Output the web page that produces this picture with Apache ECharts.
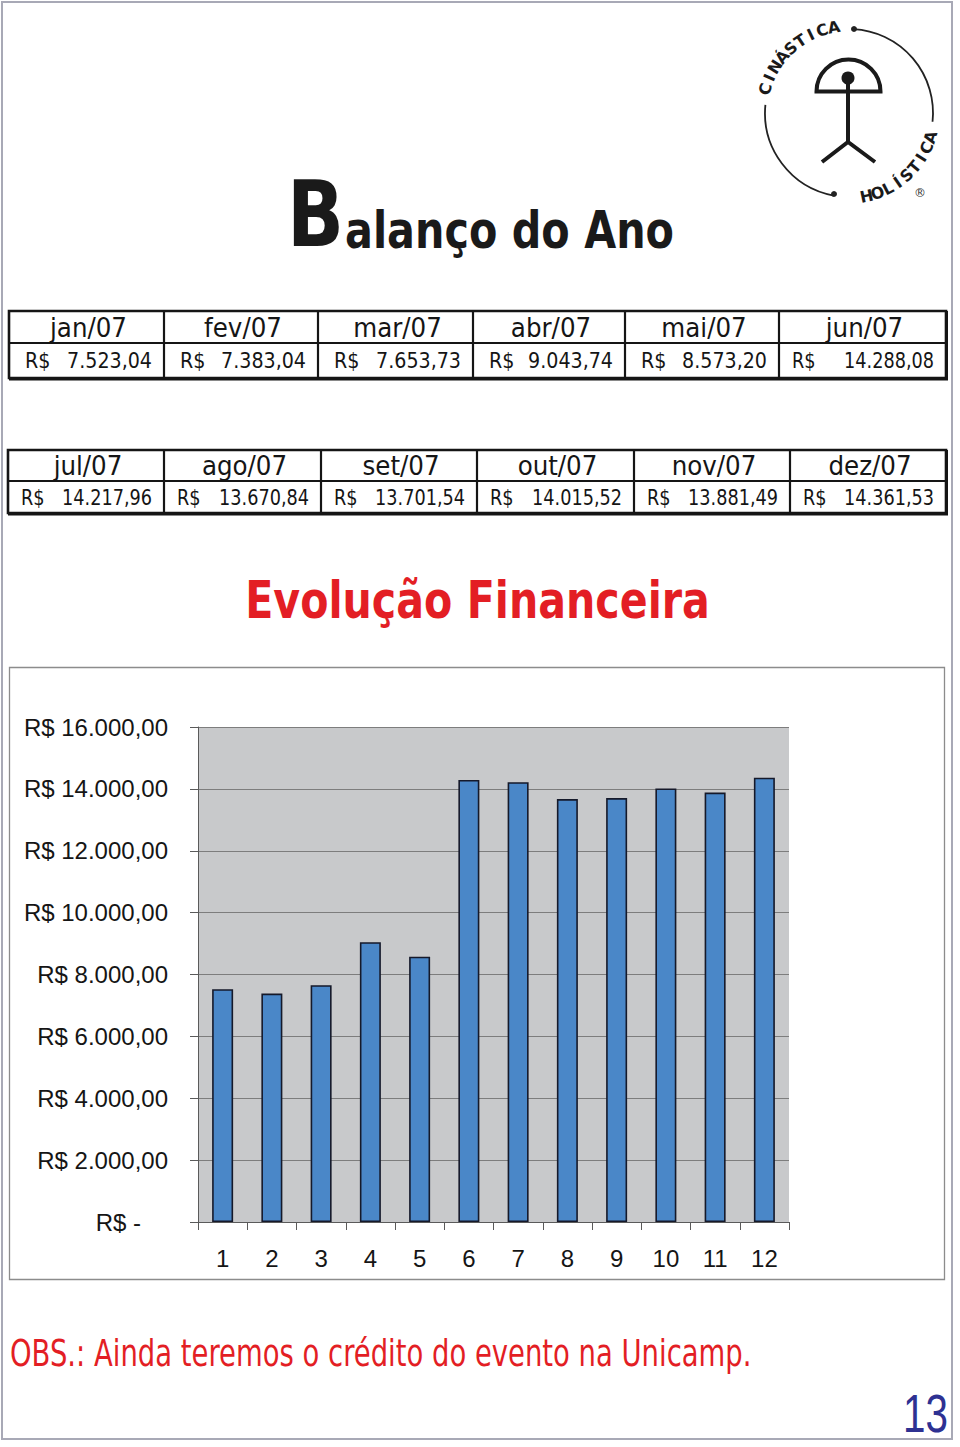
<!DOCTYPE html>
<html>
<head>
<meta charset="utf-8">
<script src="https://cdn.jsdelivr.net/npm/echarts@6/dist/echarts.min.js"></script>
<style>
html,body{margin:0;padding:0;background:#fff;}
#chart{width:960px;height:1447px;}
</style>
</head>
<body>
<div id="chart"></div>
<script>
// ---- data ----
const months = ['jan/07','fev/07','mar/07','abr/07','mai/07','jun/07','jul/07','ago/07','set/07','out/07','nov/07','dez/07'];
const values = [7523.04, 7383.04, 7653.73, 9043.74, 8573.20, 14288.08, 14217.96, 13670.84, 13701.54, 14015.52, 13881.49, 14361.53];
const xLabels = ['1','2','3','4','5','6','7','8','9','10','11','12'];
const yMin = 0, yMax = 16000, yStep = 2000;
const pageTitleBig = 'B';
const pageTitleRest = 'alanço do Ano';
const chartTitle = 'Evolução Financeira';
const note = 'OBS.: Ainda teremos o crédito do evento na Unicamp.';
const pageNumber = '13';
const logoTop = 'CINÁSTICA';
const logoBottom = 'HOLÍSTICA';

// ---- helpers ----
function brl(v){
  const s = v.toFixed(2).split('.');
  return s[0].replace(/\B(?=(\d{3})+(?!\d))/g, '.') + ',' + s[1];
}
const mctx = document.createElement('canvas').getContext('2d');
function fit(text, font, w){ mctx.font = font; return w / mctx.measureText(text).width; }
function txt(x, y, text, font, fill, align, vAlign, scaleX, rotation){
  return {
    type:'text', x:x, y:y, scaleX: scaleX || 1, scaleY:1, rotation: rotation || 0, silent:true,
    style:{text:text, font:font, fill:fill, align:align, verticalAlign:vAlign,
           textAlign:align, textVerticalAlign:vAlign}
  };
}
const D = "'DejaVu Sans', Verdana, sans-serif";
const ARIAL = "'Liberation Sans', Arial, sans-serif";
const INK = '#151515';
const RED = '#E31E24';

const els = [];

// page border
els.push({type:'rect', shape:{x:2, y:2, width:950, height:1437}, style:{fill:'none', stroke:'#a8a9b6', lineWidth:2}, silent:true});

// ---- logo ----
const LC = {cx:849, cy:113, r:84};
const deg = Math.PI/180;
els.push({type:'arc', shape:{cx:LC.cx, cy:LC.cy, r:LC.r, startAngle:-87*deg, endAngle:6*deg, clockwise:true}, style:{stroke:'#222', lineWidth:1.8, fill:'none'}, silent:true});
els.push({type:'arc', shape:{cx:LC.cx, cy:LC.cy, r:LC.r, startAngle:100.5*deg, endAngle:185.5*deg, clockwise:true}, style:{stroke:'#222', lineWidth:1.8, fill:'none'}, silent:true});
els.push({type:'circle', shape:{cx:854, cy:29, r:3}, style:{fill:'#222'}, silent:true});
els.push({type:'circle', shape:{cx:834, cy:194, r:3}, style:{fill:'#222'}, silent:true});
els.push({type:'sector', shape:{cx:848.5, cy:91.5, r:32, r0:0, startAngle:Math.PI, endAngle:2*Math.PI, clockwise:true}, style:{fill:'none', stroke:'#1a1a1a', lineWidth:4, lineJoin:'miter'}, silent:true});
els.push({type:'line', shape:{x1:848, y1:78, x2:848, y2:143}, style:{stroke:'#1a1a1a', lineWidth:4}, silent:true});
els.push({type:'circle', shape:{cx:848, cy:78, r:6.5}, style:{fill:'#1a1a1a'}, silent:true});
els.push({type:'polyline', shape:{points:[[822,162],[848,142],[875,162]]}, style:{stroke:'#1a1a1a', lineWidth:4, fill:'none'}, silent:true});
(function(){
  const f = "bold 16px " + D;
  const n = logoTop.length;
  for (let i = 0; i < n; i++){
    const th = 196 + (260 - 196) * i / (n - 1);
    const x = LC.cx + 87 * Math.cos(th*deg), y = LC.cy + 87 * Math.sin(th*deg);
    els.push(txt(x, y, logoTop[i], f, '#1a1a1a', 'center', 'middle', 1, -(th + 90) * deg));
  }
  const m = logoBottom.length;
  for (let i = 0; i < m; i++){
    const th = 78 + (16.5 - 78) * i / (m - 1);
    const x = LC.cx + 85 * Math.cos(th*deg), y = LC.cy + 85 * Math.sin(th*deg);
    els.push(txt(x, y, logoBottom[i], f, '#1a1a1a', 'center', 'middle', 1, -(th - 90) * deg));
  }
  els.push(txt(920, 193, '®', "12px " + D, '#333', 'center', 'middle'));
})();

// ---- page title ----
(function(){
  const fB = "bold 90px " + D;
  els.push(txt(287, 215, pageTitleBig, fB, '#1a1a1a', 'left', 'middle', fit(pageTitleBig, fB, 57)));
  const fR = "bold 51px " + D;
  els.push(txt(345, 230, pageTitleRest, fR, '#1a1a1a', 'left', 'middle', fit(pageTitleRest, fR, 329)));
})();

// ---- tables ----
const tables = [
  {top:311, mid:343, bottom:378, cols:[9,164,318,473,625,779,946], from:0},
  {top:450, mid:481, bottom:513, cols:[8,164,321,477,634,790,946], from:6}
];
(function(){
  const fH = "26px " + D, fV = "21px " + D;
  const sH = fit('jan/07', fH, 77);
  const sV = fit('7.523,04', fV, 85);
  const sV2 = fit('14.217,96', fV, 90);
  tables.forEach(t => {
    const L = t.cols[0], R = t.cols[t.cols.length-1];
    els.push({type:'rect', shape:{x:L, y:t.top, width:R-L, height:t.bottom-t.top}, style:{fill:'none', stroke:INK, lineWidth:2.6}, silent:true});
    els.push({type:'rect', shape:{x:L, y:t.bottom-1, width:R-L+2, height:3.5}, style:{fill:INK}, silent:true});
    els.push({type:'rect', shape:{x:R-0.5, y:t.top, width:2.5, height:t.bottom-t.top+2}, style:{fill:INK}, silent:true});
    els.push({type:'line', shape:{x1:L, y1:t.mid, x2:R, y2:t.mid}, style:{stroke:INK, lineWidth:2}, silent:true});
    for (let c = 1; c < t.cols.length-1; c++){
      els.push({type:'line', shape:{x1:t.cols[c], y1:t.top, x2:t.cols[c], y2:t.bottom}, style:{stroke:INK, lineWidth:2.2}, silent:true});
    }
    const hy = (t.top + t.mid)/2 + 1, vy = (t.mid + t.bottom)/2 + 0.5;
    for (let c = 0; c < 6; c++){
      const i = t.from + c;
      const a = t.cols[c], b = t.cols[c+1];
      const big = values[i] >= 10000;
      const sv = big ? sV2 : sV;
      els.push(txt((a+b)/2 + 2, hy, months[i], fH, INK, 'center', 'middle', sH));
      els.push(txt(a + (big ? 13 : 16), vy, 'R$', fV, INK, 'left', 'middle', sv));
      els.push(txt(b - 12, vy, brl(values[i]), fV, INK, 'right', 'middle', sv));
    }
  });
})();

// ---- chart title ----
(function(){
  const f = "bold 52px " + D;
  els.push(txt(477.5, 600, chartTitle, f, RED, 'center', 'middle', fit(chartTitle, f, 465)));
})();

// chart box
els.push({type:'rect', shape:{x:9.5, y:667.5, width:935, height:612}, style:{fill:'none', stroke:'#8c8c8c', lineWidth:1.3}, silent:true});

// ---- footer ----
(function(){
  const f = "37px " + D;
  els.push(txt(10, 1354, note, f, RED, 'left', 'middle', fit(note, f, 742)));
  const fn = "53px " + ARIAL;
  els.push(txt(948, 1413, pageNumber, fn, '#2E3192', 'right', 'middle', fit(pageNumber, fn, 45)));
})();

// ---- chart ----
const chart = echarts.init(document.getElementById('chart'), null, {renderer:'svg', width:960, height:1447});
chart.setOption({
  animation:false,
  backgroundColor:'#ffffff',
  grid:{left:198, top:727, width:591, height:495, show:true, backgroundColor:'#C8C9CB', borderWidth:0, containLabel:false},
  xAxis:{
    type:'category', data:xLabels,
    axisLine:{show:true, lineStyle:{color:'#5a5a5a', width:1}},
    axisTick:{show:true, alignWithLabel:false, length:8, lineStyle:{color:'#5a5a5a', width:1}},
    axisLabel:{fontFamily:ARIAL, fontSize:24, color:'#151515', margin:24},
    splitLine:{show:false}
  },
  yAxis:{
    type:'value', min:yMin, max:yMax, interval:yStep,
    axisLine:{show:true, lineStyle:{color:'#5a5a5a', width:1}},
    axisTick:{show:true, length:8, lineStyle:{color:'#5a5a5a', width:1}},
    axisLabel:{
      fontFamily:ARIAL, fontSize:24, color:'#151515', margin:30,
      formatter: v => v === 0 ? '{z|R$ -}' : 'R$ ' + brl(v),
      rich:{z:{fontFamily:ARIAL, fontSize:24, color:'#151515', padding:[0,27,0,0]}}
    },
    splitLine:{show:true, lineStyle:{color:'#7d7d7d', width:1}}
  },
  series:[{
    type:'bar', data:values, barWidth:21,
    itemStyle:{color:'#4A87C8', borderColor:'#15192a', borderWidth:1.6}
  }],
  graphic:{elements:els}
});
</script>
</body>
</html>
